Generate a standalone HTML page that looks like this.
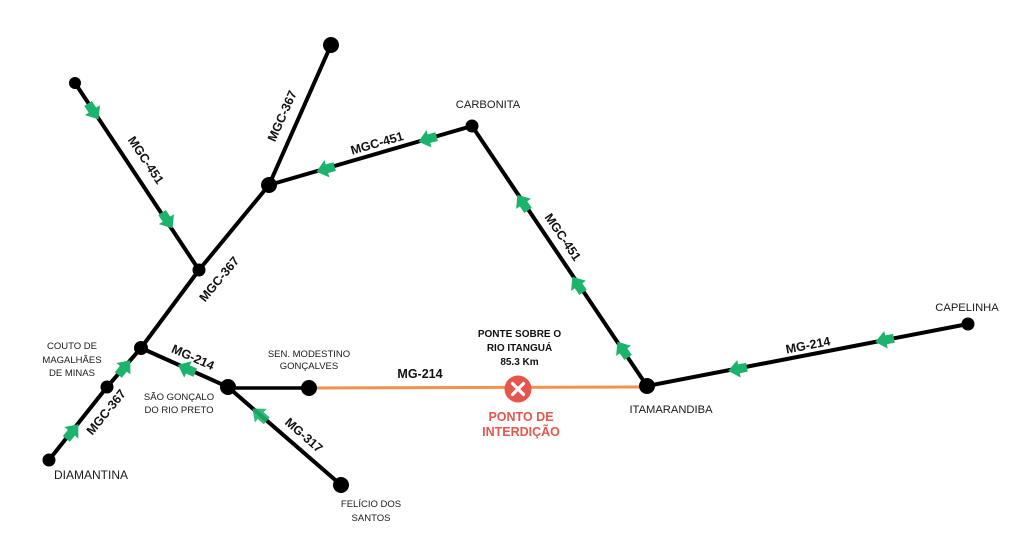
<!DOCTYPE html>
<html>
<head>
<meta charset="utf-8">
<style>
html,body{margin:0;padding:0;background:#fff;}
svg{display:block;}
text{font-family:"Liberation Sans",Arial,sans-serif;fill:#1a1a1a;}
.n{font-size:11.2px;}
.s{font-size:9.5px;}
.b{font-size:12.5px;font-weight:bold;fill:#111;}
.p{font-size:10px;font-weight:bold;fill:#111;}
.r{font-size:12.5px;font-weight:bold;fill:#e5574c;}
</style>
</head>
<body>
<svg width="1030" height="546" viewBox="0 0 1030 546" xmlns="http://www.w3.org/2000/svg">
<defs>
<polygon id="ar" points="10,0 -1,-9 -1,-4.5 -9,-4.5 -9,4.5 -1,4.5 -1,9" fill="#1cb46c"/>
</defs>

<!-- roads -->
<g stroke="#000" stroke-width="4" fill="none" stroke-linecap="round" stroke-linejoin="round">
<line x1="75" y1="83" x2="199" y2="270"/>
<line x1="331" y1="45" x2="269" y2="185"/>
<polyline points="269,185 199,270 141,348 107,387 49,460"/>
<line x1="472" y1="126" x2="269" y2="185"/>
<line x1="472" y1="126" x2="647" y2="386"/>
<line x1="968" y1="324" x2="647" y2="386"/>
<line x1="141" y1="348" x2="228" y2="387"/>
<line x1="228" y1="387" x2="341" y2="485"/>
<line x1="228" y1="388" x2="309" y2="388" stroke-width="3.5"/>
</g>
<line x1="309" y1="388" x2="647" y2="387" stroke="#f2924e" stroke-width="3"/>

<!-- nodes -->
<g fill="#000">
<circle cx="75" cy="83" r="6"/>
<circle cx="331" cy="45" r="8"/>
<circle cx="269" cy="185" r="8"/>
<circle cx="199" cy="270" r="6.5"/>
<circle cx="141" cy="348" r="7"/>
<circle cx="107" cy="387" r="6.5"/>
<circle cx="49" cy="460" r="6.5"/>
<circle cx="228" cy="387" r="8"/>
<circle cx="309" cy="388" r="8"/>
<circle cx="341" cy="485" r="8"/>
<circle cx="472" cy="126" r="6.5"/>
<circle cx="647" cy="386" r="8"/>
<circle cx="968" cy="324" r="6.5"/>
</g>

<!-- arrows -->
<use href="#ar" transform="translate(93,111) rotate(56.4)"/>
<use href="#ar" transform="translate(167,220) rotate(56.4)"/>
<use href="#ar" transform="translate(428,139) rotate(164)"/>
<use href="#ar" transform="translate(326,169) rotate(164)"/>
<use href="#ar" transform="translate(523,203) rotate(-124.2)"/>
<use href="#ar" transform="translate(578,285) rotate(-124.2)"/>
<use href="#ar" transform="translate(623,350) rotate(-124.2)"/>
<use href="#ar" transform="translate(885,340) rotate(169)"/>
<use href="#ar" transform="translate(738,369) rotate(169)"/>
<use href="#ar" transform="translate(72,432) rotate(-50.6)"/>
<use href="#ar" transform="translate(124,368) rotate(-50.6)"/>
<use href="#ar" transform="translate(187,369) rotate(-155.8)"/>
<use href="#ar" transform="translate(260,415) rotate(-139)" style="opacity:0.9"/>

<!-- interdiction marker -->
<circle cx="518" cy="389" r="13.5" fill="#e5574c"/>
<g stroke="#fff" stroke-width="3.2" stroke-linecap="round">
<line x1="512.5" y1="383.5" x2="523.5" y2="394.5"/>
<line x1="523.5" y1="383.5" x2="512.5" y2="394.5"/>
</g>

<!-- rotated road labels -->
<g text-anchor="middle">
<text class="b" transform="translate(146,160) rotate(56.4)" y="4.4">MGC-451</text>
<text class="b" transform="translate(282,116) rotate(-66)" y="4.4">MGC-367</text>
<text class="b" transform="translate(219,279) rotate(-50)" y="4.4">MGC-367</text>
<text class="b" transform="translate(377,143) rotate(-16)" y="4.4">MGC-451</text>
<text class="b" transform="translate(563,237) rotate(55.8)" y="4.4">MGC-451</text>
<text class="b" transform="translate(808,345) rotate(-11)" y="4.4">MG-214</text>
<text class="b" transform="translate(193,357) rotate(24)" y="4.4">MG-214</text>
<text class="b" transform="translate(106,412) rotate(-50.6)" y="4.4">MGC-367</text>
<text class="b" transform="translate(304,435) rotate(41)" y="4.4">MG-317</text>

<!-- place labels -->
<text class="n" x="488" y="108">CARBONITA</text>
<text class="n" x="967" y="311">CAPELINHA</text>
<text class="n" x="671" y="413">ITAMARANDIBA</text>
<text class="n" x="91" y="479" style="font-size:12px">DIAMANTINA</text>

<text class="p" x="519.5" y="337">PONTE SOBRE O</text>
<text class="p" x="519.5" y="351">RIO ITANGUÁ</text>
<text class="p" x="519.5" y="365">85.3 Km</text>

<text class="r" x="521" y="421">PONTO DE</text>
<text class="r" x="521" y="436">INTERDIÇÃO</text>

<text class="b" x="420" y="378">MG-214</text>

<text class="s" x="309" y="357">SEN. MODESTINO</text>
<text class="s" x="309" y="369">GONÇALVES</text>

<text class="s" x="179" y="400">SÃO GONÇALO</text>
<text class="s" x="179" y="413">DO RIO PRETO</text>

<text class="s" x="72" y="349">COUTO DE</text>
<text class="s" x="72" y="363">MAGALHÃES</text>
<text class="s" x="72" y="376">DE MINAS</text>

<text class="s" x="371" y="507">FELÍCIO DOS</text>
<text class="s" x="371" y="521">SANTOS</text>
</g>
</svg>
</body>
</html>
